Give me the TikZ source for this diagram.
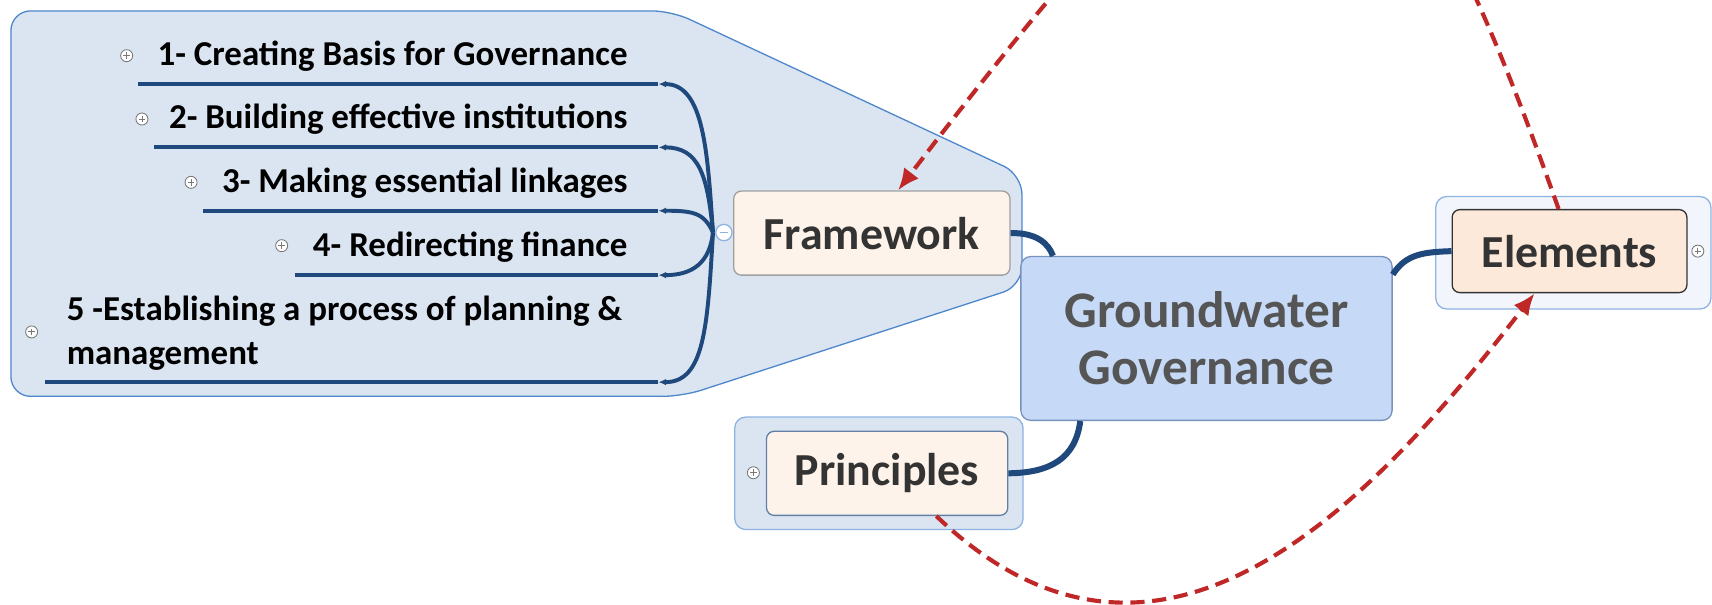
\documentclass[tikz,border=0pt]{standalone}
\usepackage{fontspec}
\setmainfont{Carlito}
\usetikzlibrary{arrows.meta}

\definecolor{bubblefill}{RGB}{219,229,241}
\definecolor{bubbleline}{RGB}{141,179,226}
\definecolor{bigline}{RGB}{79,135,205}
\definecolor{outerfill}{RGB}{242,246,252}
\definecolor{topicfill}{RGB}{253,243,234}
\definecolor{elfill}{RGB}{253,233,217}
\definecolor{gwfill}{RGB}{198,217,247}
\definecolor{gwline}{RGB}{120,146,190}
\definecolor{gwtext}{RGB}{85,85,85}
\definecolor{topictext}{RGB}{51,51,51}
\definecolor{branchc}{RGB}{31,73,125}
\definecolor{linkred}{RGB}{192,40,40}
\definecolor{iconc}{RGB}{120,120,120}

\begin{document}
\begin{tikzpicture}[x=1pt,y=-1pt,>/.tip={Latex[length=7pt,width=6pt]},
	topic/.style={rounded corners=7pt,line width=1.2pt,fill=topicfill,text=topictext,font=\fontsize{42}{50}\selectfont\bfseries,inner sep=0pt},
	bubble/.style={rounded corners=10pt,line width=1.2pt,draw=bubbleline,fill=bubblefill},
	item/.style={font=\fontsize{32}{40}\selectfont\bfseries,inner sep=0pt},
	underline/.style={draw=branchc,line width=3.6pt},
	branch/.style={draw=branchc,line width=3.6pt,->},
	trunk/.style={draw=branchc,line width=5.5pt},
	link/.style={draw=linkred,line width=3.8pt,dash pattern=on 13pt off 7pt,-{Latex[length=20pt,width=17pt]}},
	plusbtn/.style={circle,draw=iconc,fill=white,line width=0.8pt,minimum size=11pt,inner sep=0pt,
		path picture={\draw[iconc,line width=0.8pt] ([xshift=2.5pt]path picture bounding box.west) -- ([xshift=-2.5pt]path picture bounding box.east);
			\draw[iconc,line width=0.8pt] ([yshift=-2.5pt]path picture bounding box.north) -- ([yshift=2.5pt]path picture bounding box.south);}},
	minusbtn/.style={circle,draw=bubbleline,fill=white,line width=1.2pt,minimum size=15pt,inner sep=0pt,
		path picture={\draw[bubbleline,line width=1.5pt] ([xshift=3.5pt]path picture bounding box.west) -- ([xshift=-3.5pt]path picture bounding box.east);}}]
	\useasboundingbox (0,0) rectangle (1568,554);
	\clip (0,0) rectangle (1568,554);

	\draw[bubble,draw=bigline,rounded corners=18pt] (10,10) -- (615,10) -- (936,160) -- (936,262) -- (625,363) -- (10,363) -- cycle;
	\draw (805,433.5) node (pr-bub) [bubble,minimum width=264pt,minimum height=103pt] {};
	\draw (1441,231.5) node (el-bub) [bubble,fill=outerfill,minimum width=252pt,minimum height=103pt] {};

	\draw (1105,310) node (gw) [draw=gwline,fill=gwfill,rounded corners=9pt,line width=1.2pt,minimum width=340pt,minimum height=150pt,inner sep=0pt,align=center,text=gwtext,font=\fontsize{47}{52}\selectfont\bfseries] {Groundwater\\Governance};
	\draw (798.5,213.5) node (fw) [topic,draw=iconc!70,minimum width=253pt,minimum height=77pt] {Framework};
	\draw (812.5,433.5) node (pr) [topic,draw=branchc!70,minimum width=221pt,minimum height=77pt] {Principles};
	\draw (1437.5,230) node (el) [topic,fill=elfill,draw=black!80,minimum width=215pt,minimum height=76pt] {Elements};

	\draw (575,51) node (i1) [item,anchor=east] {1- Creating Basis for Governance};
	\draw (575,109) node (i2) [item,anchor=east] {2- Building effective institutions};
	\draw (575,168) node (i3) [item,anchor=east] {3- Making essential linkages};
	\draw (575,226) node (i4) [item,anchor=east] {4- Redirecting finance};
	\draw (61,305) node (i5) [item,anchor=west,align=left] {5 -Establishing a process of planning \&\\management};

	\draw (116,51) node (p1) [plusbtn] {};
	\draw (130,109) node (p2) [plusbtn] {};
	\draw (175,167) node (p3) [plusbtn] {};
	\draw (258,225) node (p4) [plusbtn] {};
	\draw (29,304) node (p5) [plusbtn] {};
	\draw (690,433) node (p6) [plusbtn] {};
	\draw (1555,230) node (p7) [plusbtn] {};

	\coordinate (u1w) at (126,77);
	\coordinate (u1e) at (603,77);
	\coordinate (u2w) at (141,135);
	\coordinate (u2e) at (603,135);
	\coordinate (u3w) at (186,193);
	\coordinate (u3e) at (603,193);
	\coordinate (u4w) at (270,252);
	\coordinate (u4e) at (603,252);
	\coordinate (u5w) at (41,350);
	\coordinate (u5e) at (603,350);
	\coordinate (hub) at (653,213);

	\draw[underline] (u1w) -- (u1e);
	\draw[underline] (u2w) -- (u2e);
	\draw[underline] (u3w) -- (u3e);
	\draw[underline] (u4w) -- (u4e);
	\draw[underline] (u5w) -- (u5e);

	\draw[branch] (hub) .. controls (648,140) and (645,77) .. (u1e);
	\draw[branch] (hub) .. controls (648,160) and (640,135) .. (u2e);
	\draw[branch] (hub) .. controls (645,195) and (635,193) .. (u3e);
	\draw[branch] (hub) .. controls (650,240) and (635,252) .. (u4e);
	\draw[branch] (hub) .. controls (648,300) and (645,350) .. (u5e);
	\draw (663,213) node (fw-btn) [minusbtn] {};

	\draw[trunk] (fw.east) .. controls (948,213) and (960,222) .. ([xshift=30pt]gw.north west);
	\draw[trunk] ([yshift=-17pt]gw.north east) .. controls (1288,232) and (1305,231) .. (el.west);
	\draw[trunk] ([xshift=55pt]gw.south west) .. controls (985,420) and (962,433) .. (pr.east);

	\draw[link] ([xshift=-10pt]el.north) .. controls (1250,-310) and (1170,-280) .. ([xshift=24pt]fw.north);
	\draw[link] ([xshift=45pt]pr.south) .. controls (1062,668) and (1255,463) .. ([xshift=-32pt]el.south);
\end{tikzpicture}
\end{document}
